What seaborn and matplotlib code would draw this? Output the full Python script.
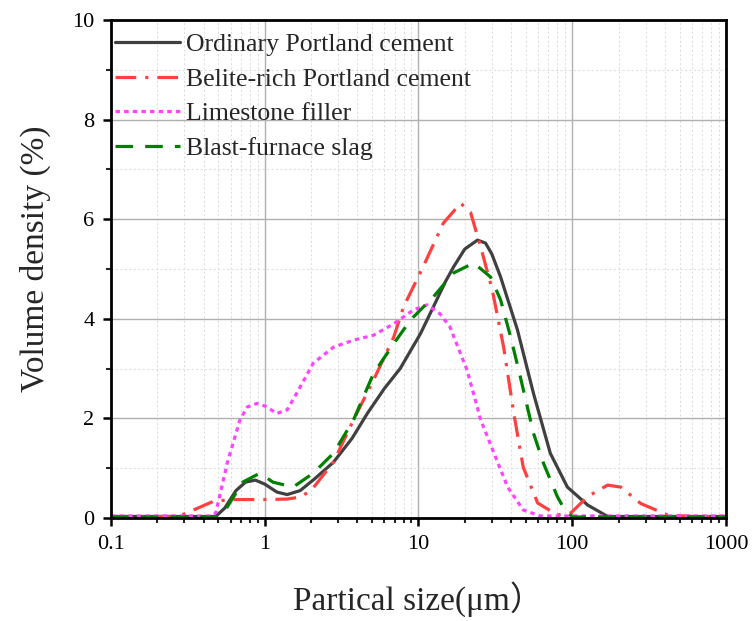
import numpy as np
import pandas as pd
import matplotlib
matplotlib.use("Agg")
import matplotlib.pyplot as plt
from matplotlib.ticker import LogLocator, MultipleLocator
import seaborn as sns

# particle size distributions (x in um, y in %)
opc_x = [0.1, 0.2, 0.3, 0.4, 0.48, 0.55, 0.65, 0.75, 0.87, 1.0, 1.2, 1.4, 1.7, 2.1,
         2.8, 3.7, 4.65, 6.0, 7.6, 10.3, 12.5, 15, 16.9, 20, 24.2, 27.3, 30, 34.2,
         44, 56, 72, 93, 126, 170, 250, 400, 600, 1000]
opc_y = [0.03, 0.03, 0.03, 0.03, 0.03, 0.2, 0.55, 0.72, 0.76, 0.68, 0.52, 0.47, 0.55, 0.78,
         1.12, 1.6, 2.1, 2.6, 3.0, 3.7, 4.24, 4.75, 5.04, 5.4, 5.58, 5.52, 5.3, 4.84,
         3.78, 2.5, 1.3, 0.62, 0.26, 0.03, 0.03, 0.03, 0.03, 0.03]

bpc_x = [0.1, 0.25, 0.3, 0.46, 0.6, 1.0, 1.4, 1.7, 2.0, 2.8, 3.78, 5.1, 6.9, 8.0,
         10.7, 14.5, 18.8, 21.8, 25.4, 30.2, 35.8, 41.7, 48, 59.6, 80, 98, 126,
         170, 207, 279, 417, 600, 1000]
bpc_y = [0.03, 0.03, 0.08, 0.33, 0.37, 0.37, 0.38, 0.42, 0.55, 1.12, 1.97, 2.77, 3.63, 4.24,
         5.04, 5.92, 6.32, 6.14, 5.44, 4.58, 3.43, 2.1, 1.02, 0.3, 0.06, 0.1, 0.43,
         0.66, 0.62, 0.29, 0.06, 0.03, 0.03]

lf_x = [0.1, 0.45, 0.48, 0.57, 0.69, 0.77, 0.89, 1.0, 1.2, 1.4, 1.7, 2.07, 2.8, 3.78,
        5.1, 6.9, 9.3, 11.4, 13.8, 16, 20.7, 25.4, 31, 38, 48, 62, 200, 1000]
lf_y = [0.04, 0.04, 0.1, 1.1, 1.97, 2.23, 2.3, 2.25, 2.1, 2.17, 2.63, 3.11, 3.43, 3.57,
        3.67, 3.9, 4.18, 4.28, 4.1, 3.84, 2.97, 1.97, 1.3, 0.62, 0.16, 0.04, 0.04, 0.04]

bfs_x = [0.1, 0.48, 0.57, 0.72, 0.93, 1.13, 1.53, 2.07, 2.8, 3.78, 5.1, 6.9, 8.9, 12.5,
         16.9, 22.9, 29.4, 34.2, 39.8, 46, 56, 65, 80, 88, 100, 300, 1000]
bfs_y = [0.02, 0.02, 0.22, 0.72, 0.9, 0.72, 0.62, 0.9, 1.3, 1.97, 2.9, 3.5, 3.98, 4.44,
         4.92, 5.12, 4.84, 4.38, 3.63, 2.83, 1.7, 1.1, 0.43, 0.2, 0.02, 0.02, 0.02]

labels = ["Ordinary Portland cement", "Belite-rich Portland cement",
          "Limestone filler", "Blast-furnace slag"]
x_ticks = [0.1, 1, 10, 100, 1000]
x_ticklabels = ["0.1", "1", "10", "100", "1000"]

series = [
    (opc_x, opc_y, "#404040", "-"),
    (bpc_x, bpc_y, "#ff4040", (0, (6.5, 2.8, 1, 2.8))),
    (lf_x, lf_y, "#ff44ff", (0, (1.4, 1.3))),
    (bfs_x, bfs_y, "#008000", (0, (5.5, 3.8))),
]

sns.set_theme(style="ticks")
plt.rcParams["font.family"] = ["Liberation Serif", "Noto Sans CJK SC", "DejaVu Sans"]

fig = plt.figure(figsize=(7.53, 6.21), dpi=100)
ax = fig.add_axes([0.1474, 0.1659, 0.8167, 0.8019])

for (xs, ys, col, ls), lab in zip(series, labels):
    sns.lineplot(x=xs, y=ys, ax=ax, color=col, linestyle=ls, linewidth=2.3,
                 label=lab, sort=False)

ax.set_xscale("log")
ax.set_xlim(0.1, 1000)
ax.set_ylim(0, 10)
ax.set_xticks(x_ticks)
ax.set_xticklabels(x_ticklabels)
ax.xaxis.set_minor_locator(LogLocator(base=10, subs=np.arange(2, 10)))
ax.yaxis.set_major_locator(MultipleLocator(2))
ax.yaxis.set_minor_locator(MultipleLocator(1))

ax.grid(which="major", color="#b0b0b0", linewidth=1.0, linestyle="-")
ax.grid(which="minor", color="#e0e0e0", linewidth=0.8, linestyle=(0, (2, 2)))
ax.set_axisbelow(True)

for sp in ax.spines.values():
    sp.set_linewidth(2.0)
    sp.set_color("black")
ax.tick_params(which="major", direction="out", length=6, width=1.8,
               labelsize=16, colors="black", pad=6)
ax.tick_params(which="minor", direction="out", length=3.5, width=1.5)
ax.tick_params(axis="x", which="both", top=False)
ax.tick_params(axis="y", which="both", right=False)

ax.set_xlabel("Partical size(\u03bcm\uff09", fontsize=24, labelpad=20)
ax.set_ylabel("Volume density (%)", fontsize=24)
ax.yaxis.set_label_coords(-0.098, 0.52)

leg = ax.legend(loc="upper left", bbox_to_anchor=(-0.0146, 1.0), frameon=False,
                fontsize=18.5, handlelength=2.5, handletextpad=0.25,
                labelspacing=0.45, borderaxespad=0.42, borderpad=0.1)

fig.savefig("out.png", dpi=100)
